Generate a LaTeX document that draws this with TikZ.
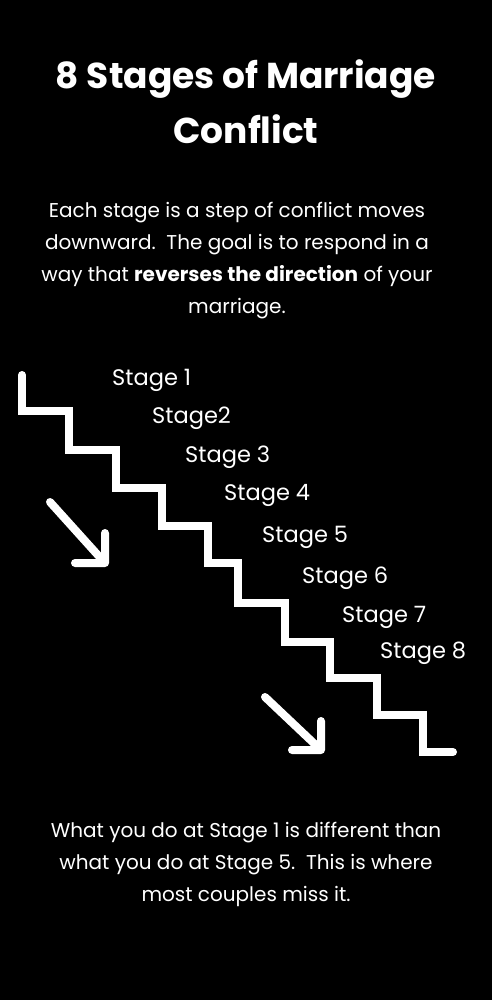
\documentclass[tikz,border=0pt]{standalone}
\usepackage{fontspec}
\setmainfont{Poppins}
\usetikzlibrary{positioning}
\tikzstyle{every stage} = []
\tikzstyle{stagelabel} = [text=white, font=\fontsize{22.5}{24}\selectfont, anchor=west, inner sep=0pt, every stage]
\tikzstyle{stair} = [draw=white, line width=8pt, line cap=round, line join=miter]
\tikzstyle{downarrow} = [draw=white, line width=8pt, line cap=round, line join=round]
\tikzstyle{blurb} = [text=white, align=center, inner sep=0pt, font=\fontsize{20}{32}\selectfont]

\begin{document}
\begin{tikzpicture}[x=1pt,y=-1pt]
                    \fill[black] (0,0) rectangle (492,1000);
                    \node[text=white, align=center, inner sep=0pt, font=\bfseries\fontsize{36}{55}\selectfont] (title) at (246,102) {8 Stages of Marriage\\Conflict};
                    \node[blurb] (intro) at (237,261) {Each stage is a step of conflict moves\\downward.\ \ The goal is to respond in a\\way that \textbf{reverses the direction} of your\\marriage.};

                    % the stairs
                    \draw[stair] (22,375) -- (22,411) -- (69,411) -- (69,450) -- (116,450) -- (116,488)
                        -- (162,488) -- (162,526) -- (208,526) -- (208,563) -- (238,563) -- (238,603)
                        -- (285,603) -- (285,642) -- (330,642) -- (330,678) -- (377,678) -- (377,715)
                        -- (423,715) -- (423,752) -- (453,752);

                    \foreach \x/\y/\t [count=\i] in {112/380/Stage 1, 152/418/Stage2, 185/457/Stage 3, 224/495/Stage 4,
                        262/537/Stage 5, 302/578/Stage 6, 342/617/Stage 7, 380/653/Stage 8}
                        \node[stagelabel] (stage\i) at (\x,\y) {\t};

                    \coordinate (upstart) at (50,502);
                    \coordinate (uptip) at (105,563);
                    \draw[downarrow] (upstart) -- (uptip) (uptip) ++(-30,0) -- (uptip) -- ++(0,-30);
                    \coordinate (lowstart) at (265,697);
                    \coordinate (lowtip) at (321,750);
                    \draw[downarrow] (lowstart) -- (lowtip) (lowtip) ++(-29,0) -- (lowtip) -- ++(0,-29);

                    \node[blurb] (outro) at (246,864) {What you do at Stage 1 is different than\\what you do at Stage 5.\ \ This is where\\most couples miss it.};
\end{tikzpicture}
\end{document}
